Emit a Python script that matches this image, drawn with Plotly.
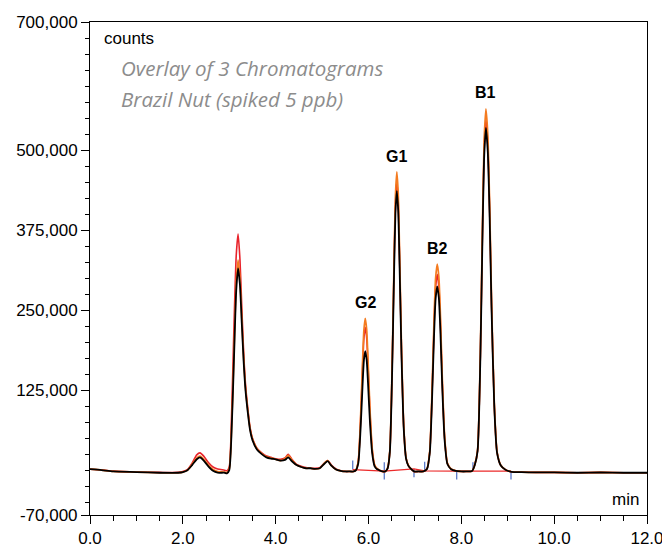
import plotly.graph_objects as go

# Retention time grid (min)
time_min = [0, 0.25, 0.5, 1.0, 1.5, 1.9, 2.0, 2.1, 2.2, 2.3, 2.37, 2.45, 2.55, 2.65, 2.75,
            2.9, 2.95, 3.0, 3.05, 3.1, 3.15, 3.19, 3.23, 3.27, 3.31, 3.35, 3.4, 3.45, 3.5,
            3.6, 3.7, 3.8, 3.9, 4.0, 4.1, 4.2, 4.27, 4.35, 4.45, 4.55, 4.65, 4.75, 4.85,
            4.95, 5.05, 5.12, 5.2, 5.3, 5.4, 5.5, 5.6,
            5.68, 5.73, 5.78, 5.83, 5.87, 5.90, 5.93, 5.96, 5.99, 6.03, 6.08, 6.13, 6.18, 6.23, 6.30,
            6.36, 6.41, 6.46, 6.51, 6.55, 6.58, 6.61, 6.64, 6.67, 6.71, 6.76, 6.81, 6.86, 6.91, 6.98,
            7.08,
            7.18, 7.26, 7.32, 7.37, 7.41, 7.445, 7.48, 7.515, 7.55, 7.59, 7.64, 7.70, 7.78, 7.88,
            8.0, 8.1,
            8.23, 8.29, 8.35, 8.41, 8.45, 8.49, 8.53, 8.57, 8.61, 8.65, 8.71, 8.77, 8.85, 8.95, 9.08,
            9.3, 9.6, 10.0, 10.5, 11.0, 11.5, 12.0]

counts_black = [1500, 0, -2000, -3000, -4000, -4000, -3000, 0, 8000, 17000, 20000, 15000, 6000, -1000, -4000,
                -4000, -5000, 0, 60000, 170000, 280000, 315000, 290000, 230000, 170000, 125000, 90000, 62000, 47000,
                32000, 25000, 20000, 18000, 17000, 15000, 16000, 20000, 14000, 8000, 5000, 3000, 3000, 2000,
                3000, 10000, 14000, 7000, 1000, -1000, -2000, -2000,
                -2000, 0, 11000, 65700, 129600, 171000, 186000, 172800, 135200, 77000, 26200, 6500, 1800, 0, -2000,
                -2000, 2400, 28700, 155700, 304600, 401000, 436000, 405300, 317700, 182000, 63700, 17700, 6800, 2400, -2000,
                -2000,
                -2000, 1800, 26900, 113600, 206000, 266800, 287000, 269700, 214800, 128000, 47100, 9600, 1500, -1100,
                -2000, -2000,
                -1400, 8200, 29700, 174700, 341200, 486200, 534500, 496900, 394900, 255300, 99500, 27000, 7200, 700, -2500,
                -3000, -3500, -3500, -4000, -3500, -4000, -4000]

counts_red = [1500, 500, -1500, -3000, -3500, -3500, -2000, 1000, 11000, 24000, 27000, 22000, 12000, 5000, 2000,
              0, -1000, 5000, 85000, 220000, 335000, 369000, 330000, 255000, 184000, 134000, 96000, 66000, 50000,
              34000, 27000, 22000, 20000, 18000, 17000, 19000, 25000, 17000, 9000, 6000, 4000, 3000, 3000,
              4000, 11000, 15000, 8000, 2000, -1000, -2000, -2000,
              -2000, 0, 14000, 79000, 155500, 205000, 223000, 207300, 162300, 92500, 31800, 8000, 2500, 0, -2000,
              -2000, 2500, 29700, 161100, 315100, 414800, 451000, 419300, 328700, 188300, 66000, 18400, 7100, 2500, -2000,
              -2000,
              -2000, 2000, 28800, 121200, 219800, 284400, 306000, 287500, 229000, 136600, 50400, 10300, 1700, -1100,
              -2000, -2000,
              -1400, 8500, 30500, 179000, 349500, 498000, 547500, 509000, 404500, 261500, 102000, 27800, 7400, 800, -2500,
              -3000, -3500, -3500, -4000, -3500, -4000, -4000]

counts_orange = [1500, 0, -2000, -3000, -4000, -4000, -3000, 0, 9000, 19000, 22000, 17000, 8000, 1000, -2000,
                 -3000, -4000, 2000, 65000, 180000, 292000, 328000, 300000, 238000, 176000, 129000, 93000, 64000, 49000,
                 33000, 26000, 21000, 19000, 17000, 15000, 18000, 23000, 16000, 8000, 5000, 3000, 3000, 2000,
                 3000, 11000, 15000, 7000, 1000, -1000, -2000, -2000,
                 -2000, 400, 14700, 84000, 165300, 217900, 237000, 220300, 172500, 98400, 33900, 8800, 2800, 400, -2000,
                 -2000, 2700, 30800, 166500, 325600, 428600, 466000, 433200, 339600, 194600, 68200, 19100, 7400, 2700, -2000,
                 -2000,
                 -2000, 2200, 30400, 127600, 231300, 299300, 322000, 302600, 241000, 143800, 53100, 11000, 1900, -1000,
                 -2000, -2000,
                 -1400, 8800, 31500, 184600, 360400, 513500, 564500, 524800, 417100, 269700, 105200, 28700, 7700, 900, -2500,
                 -3000, -3500, -3500, -4000, -3500, -4000, -4000]

# Integration baseline and peak start/end markers
baseline_time = [5.66, 6.34, 6.98, 7.21, 7.90, 8.25, 9.07]
baseline_counts = [1000, -1500, 2000, -1000, -1500, -1500, -1500]
marker_kind = ["start", "both", "end", "start", "end", "start", "end"]

peak_names = ["G2", "G1", "B2", "B1"]
peak_times = [5.93, 6.61, 7.48, 8.53]
peak_tops = [239000, 468000, 324000, 567000]

y_tick_vals = [-70000, 0, 125000, 250000, 375000, 500000, 625000, 700000]
y_tick_text = ["-70,000", "", "125,000", "250,000", "375,000", "500,000", "", "700,000"]
x_tick_vals = [0, 2, 4, 6, 8, 10, 12]
x_tick_text = ["0.0", "2.0", "4.0", "6.0", "8.0", "10.0", "12.0"]

fig = go.Figure()

# blue start/end marks
mx, my = [], []
for t, b, k in zip(baseline_time, baseline_counts, marker_kind):
    lo = b - 13000 if k in ("end", "both") else b
    hi = b + 14000 if k in ("start", "both") else b
    mx += [t, t, None]
    my += [lo, hi, None]
fig.add_trace(go.Scatter(x=mx, y=my, mode="lines", line=dict(color="#5b79c9", width=1.3),
                         hoverinfo="skip", showlegend=False))
fig.add_trace(go.Scatter(x=baseline_time, y=baseline_counts, mode="lines",
                         line=dict(color="#ec2a2a", width=1.2), showlegend=False))

line_common = dict(shape="spline", smoothing=0.6)
fig.add_trace(go.Scatter(x=time_min, y=counts_red, mode="lines",
                         line=dict(color="#e8232b", width=1.6, **line_common), showlegend=False))
fig.add_trace(go.Scatter(x=time_min, y=counts_orange, mode="lines",
                         line=dict(color="#f47b20", width=1.7, **line_common), showlegend=False))
fig.add_trace(go.Scatter(x=time_min, y=counts_black, mode="lines",
                         line=dict(color="#000000", width=1.8, **line_common), showlegend=False))

for name, t, top in zip(peak_names, peak_times, peak_tops):
    fig.add_annotation(x=t, y=top, text="<b>%s</b>" % name, showarrow=False,
                       yanchor="bottom", yshift=4,
                       font=dict(family="Liberation Sans, Arial", size=16, color="#000"))

fig.add_annotation(xref="paper", yref="paper", x=0.021, y=0.966, xanchor="left", yanchor="middle",
                   text="counts", showarrow=False,
                   font=dict(family="Liberation Sans, Arial", size=17, color="#000"))
fig.add_annotation(xref="paper", yref="paper", x=0.989, y=0.032, xanchor="right", yanchor="middle",
                   text="min", showarrow=False,
                   font=dict(family="Liberation Sans, Arial", size=17, color="#000"))
fig.add_annotation(xref="paper", yref="paper", x=0.052, y=0.906, xanchor="left", yanchor="middle",
                   text="<i>Overlay of 3 Chromatograms</i>", showarrow=False,
                   font=dict(family="Open Sans", size=20.5, color="#8c8c8c"))
fig.add_annotation(xref="paper", yref="paper", x=0.052, y=0.843, xanchor="left", yanchor="middle",
                   text="<i>Brazil Nut (spiked 5 ppb)</i>", showarrow=False,
                   font=dict(family="Open Sans", size=20.5, color="#8c8c8c"))

# The page body has an 8px margin, so offsets compensate for it
fig.update_layout(
    width=670, height=547,
    margin=dict(l=82, r=31, t=14, b=40),
    paper_bgcolor="white", plot_bgcolor="white",
    font=dict(family="Liberation Sans, Arial", size=17, color="#000"),
)
fig.update_xaxes(range=[0, 12], tickvals=x_tick_vals, ticktext=x_tick_text,
                 ticks="outside", ticklen=8, tickwidth=1, tickcolor="#000",
                 showline=True, linecolor="#000", linewidth=1, mirror=True,
                 showgrid=False, zeroline=False, automargin=False,
                 minor=dict(tickvals=[0.5 * i for i in range(25)], ticks="outside",
                            ticklen=5, tickcolor="#000"),
                 tickfont=dict(size=17))
fig.update_yaxes(range=[-70000, 700000], tickvals=y_tick_vals, ticktext=y_tick_text,
                 ticks="outside", ticklen=8, tickwidth=1, tickcolor="#000",
                 showline=True, linecolor="#000", linewidth=1, mirror=True,
                 showgrid=False, zeroline=False, automargin=False,
                 minor=dict(tickvals=[-50000 + 25000 * i for i in range(31)], ticks="outside",
                            ticklen=4, tickcolor="#000"),
                 tickfont=dict(size=17))

fig.write_html("out.html")
